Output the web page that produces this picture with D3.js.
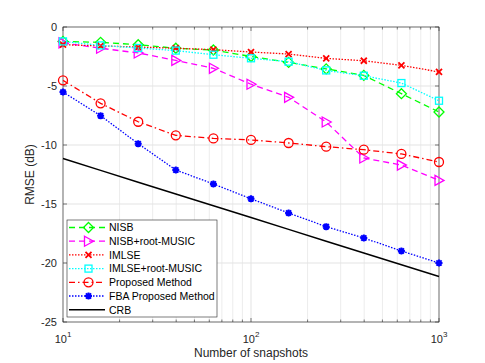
<!DOCTYPE html>
<html><head><meta charset="utf-8">
<script src="https://d3js.org/d3.v7.min.js"></script>
<style>body{margin:0;background:#fff;} text{font-family:"Liberation Sans",Arial,sans-serif;}</style>
</head><body><svg id="c" width="485" height="363"></svg>
<script>
const snapshots = [10, 15.85, 25.12, 39.81, 63.10, 100, 158.5, 251.2, 398.1, 631.0, 1000];
const nisb      = [-1.22, -1.3, -1.5, -1.8, -1.95, -2.5, -3.0, -3.55, -4.1, -5.65, -7.2];
const nisbRoot  = [-1.35, -1.8, -2.2, -2.83, -3.5, -4.85, -5.96, -8.05, -11.1, -11.7, -13.0];
const imlse     = [-1.5, -1.6, -1.7, -1.8, -1.92, -2.12, -2.29, -2.66, -2.86, -3.25, -3.81];
const imlseRoot = [-1.22, -1.56, -1.78, -2.0, -2.35, -2.65, -2.94, -3.68, -4.13, -4.75, -6.25];
const proposed  = [-4.52, -6.47, -8.03, -9.18, -9.44, -9.57, -9.83, -10.14, -10.4, -10.76, -11.44];
const fba       = [-5.51, -7.52, -9.89, -12.12, -13.3, -14.56, -15.76, -16.92, -17.88, -18.98, -20.0];
const crb       = [-11.15, -12.15, -13.15, -14.15, -15.15, -16.15, -17.15, -18.15, -19.15, -20.15, -21.15];
const yTicks = [0, -5, -10, -15, -20, -25];
const xTicks = [10, 100, 1000];

const series = [
  {name:"NISB", vals:nisb, color:"#00ff00", dash:"6,4", marker:"diamond"},
  {name:"NISB+root-MUSIC", vals:nisbRoot, color:"#ff00ff", dash:"6,4", marker:"triangle"},
  {name:"IMLSE", vals:imlse, color:"#ff0000", dash:"1.5,1.5", marker:"x"},
  {name:"IMLSE+root-MUSIC", vals:imlseRoot, color:"#00ffff", dash:"1.5,1.5", marker:"square"},
  {name:"Proposed Method", vals:proposed, color:"#ff0000", dash:"6,3,1.5,3", marker:"circle"},
  {name:"FBA Proposed Method", vals:fba, color:"#0000ff", dash:"1.5,1.5", marker:"star"},
  {name:"CRB", vals:crb, color:"#000000", dash:null, marker:null}
];

const L=63, R=439, T=27, B=322;
const svg = d3.select("#c");
const x = d3.scaleLog().domain([10,1000]).range([L,R]);
const y = d3.scaleLinear().domain([-25,0]).range([B,T]);

// grid
const minor = [];
for (let d of [10,100]) for (let k=2;k<=9;k++) minor.push(d*k);
const g = svg.append("g");
g.selectAll(".gm").data(minor).enter().append("line")
  .attr("x1",d=>x(d)).attr("x2",d=>x(d)).attr("y1",T).attr("y2",B)
  .attr("stroke","#ececec").attr("stroke-width",1);
g.selectAll(".gx").data(xTicks).enter().append("line")
  .attr("x1",d=>x(d)).attr("x2",d=>x(d)).attr("y1",T).attr("y2",B)
  .attr("stroke","#e3e3e3").attr("stroke-width",1);
g.selectAll(".gy").data(yTicks).enter().append("line")
  .attr("x1",L).attr("x2",R).attr("y1",d=>y(d)).attr("y2",d=>y(d))
  .attr("stroke","#e3e3e3").attr("stroke-width",1);

// axes
const axCol = "#262626";
const xa = svg.append("g").attr("transform",`translate(0,${B})`)
  .call(d3.axisBottom(x).tickValues(xTicks).tickSize(0).tickFormat(""));
xa.select(".domain").remove();
const ya = svg.append("g").attr("transform",`translate(${L},0)`)
  .call(d3.axisLeft(y).tickValues(yTicks).tickSize(0).tickPadding(6).tickFormat(d=>d===0?"0":String(d)));
ya.select(".domain").remove();
ya.selectAll("text").attr("font-size",11).attr("fill",axCol).attr("font-family","Liberation Sans, Arial, sans-serif");

// tick marks inward
const tk = svg.append("g").attr("stroke",axCol).attr("stroke-width",0.6);
yTicks.forEach(v=>{
  tk.append("line").attr("x1",L).attr("x2",L+4).attr("y1",y(v)).attr("y2",y(v));
  tk.append("line").attr("x1",R).attr("x2",R-4).attr("y1",y(v)).attr("y2",y(v));
});
xTicks.concat(minor).forEach(v=>{
  const len = xTicks.includes(v)?4:2.5;
  tk.append("line").attr("x1",x(v)).attr("x2",x(v)).attr("y1",B).attr("y2",B-len);
  tk.append("line").attr("x1",x(v)).attr("x2",x(v)).attr("y1",T).attr("y2",T+len);
});
svg.append("rect").attr("x",L).attr("y",T).attr("width",R-L).attr("height",B-T)
  .attr("fill","none").attr("stroke",axCol).attr("stroke-width",0.6);

// x tick labels with superscript
xTicks.forEach(v=>{
  const t = svg.append("text").attr("x",x(v)).attr("y",B+21).attr("text-anchor","middle")
    .attr("font-size",11).attr("fill",axCol);
  t.append("tspan").text("10");
  t.append("tspan").attr("dy",-6).attr("font-size",8).text(String(Math.round(Math.log10(v))));
});

svg.append("text").attr("x",(L+R)/2).attr("y",357).attr("text-anchor","middle")
  .attr("font-size",12).attr("fill",axCol).text("Number of snapshots");
svg.append("text").attr("transform",`translate(34,${(T+B)/2}) rotate(-90)`).attr("text-anchor","middle")
  .attr("font-size",12).attr("fill",axCol).text("RMSE (dB)");

// markers
function drawMarker(sel, type, color, cx, cy){
  const m = sel.append("g").attr("transform",`translate(${cx},${cy})`);
  const sw = 1.3;
  if (type==="diamond") m.append("path").attr("d","M0,-5L5,0L0,5L-5,0Z").attr("fill","none").attr("stroke",color).attr("stroke-width",sw);
  else if (type==="triangle") m.append("path").attr("d","M-4,-5L5,0L-4,5Z").attr("fill","none").attr("stroke",color).attr("stroke-width",sw);
  else if (type==="square") m.append("rect").attr("x",-3.5).attr("y",-3.5).attr("width",7).attr("height",7).attr("fill","none").attr("stroke",color).attr("stroke-width",sw);
  else if (type==="circle") m.append("circle").attr("r",4.5).attr("fill","none").attr("stroke",color).attr("stroke-width",sw);
  else if (type==="x") m.append("path").attr("d","M-3,-3L3,3M-3,3L3,-3").attr("stroke",color).attr("stroke-width",1.8);
  else if (type==="star") m.append("path").attr("d","M-3.5,0L3.5,0M0,-3.5L0,3.5M-2.6,-2.6L2.6,2.6M-2.6,2.6L2.6,-2.6").attr("stroke",color).attr("stroke-width",2);
}

const clip = svg.append("defs").append("clipPath").attr("id","cp").append("rect")
  .attr("x",L).attr("y",T).attr("width",R-L).attr("height",B-T);
const line = d3.line().x((d,i)=>x(snapshots[i])).y(d=>y(d));
const plot = svg.append("g");
series.forEach(s=>{
  plot.append("path").datum(s.vals).attr("d",line).attr("fill","none")
    .attr("stroke",s.color).attr("stroke-width",s.marker?1.3:1.5)
    .attr("stroke-dasharray",s.dash);
  if (s.marker) s.vals.forEach((v,i)=>drawMarker(plot,s.marker,s.color,x(snapshots[i]),y(v)));
});

// legend
const lg = svg.append("g");
const lx=67, ly=220, lw=150, lh=97;
lg.append("rect").attr("x",lx).attr("y",ly).attr("width",lw).attr("height",lh)
  .attr("fill","#fff").attr("stroke",axCol).attr("stroke-width",0.6);
series.forEach((s,i)=>{
  const yy = ly+7.5+i*13.7;
  lg.append("line").attr("x1",lx+2).attr("x2",lx+38).attr("y1",yy).attr("y2",yy)
    .attr("stroke",s.color).attr("stroke-width",s.marker?1.3:1.5).attr("stroke-dasharray",s.dash);
  if (s.marker) drawMarker(lg,s.marker,s.color,lx+21.5,yy);
  lg.append("text").attr("x",lx+42).attr("y",yy+3.8).attr("font-size",10.5).attr("fill","#000").text(s.name);
});
</script></body></html>
